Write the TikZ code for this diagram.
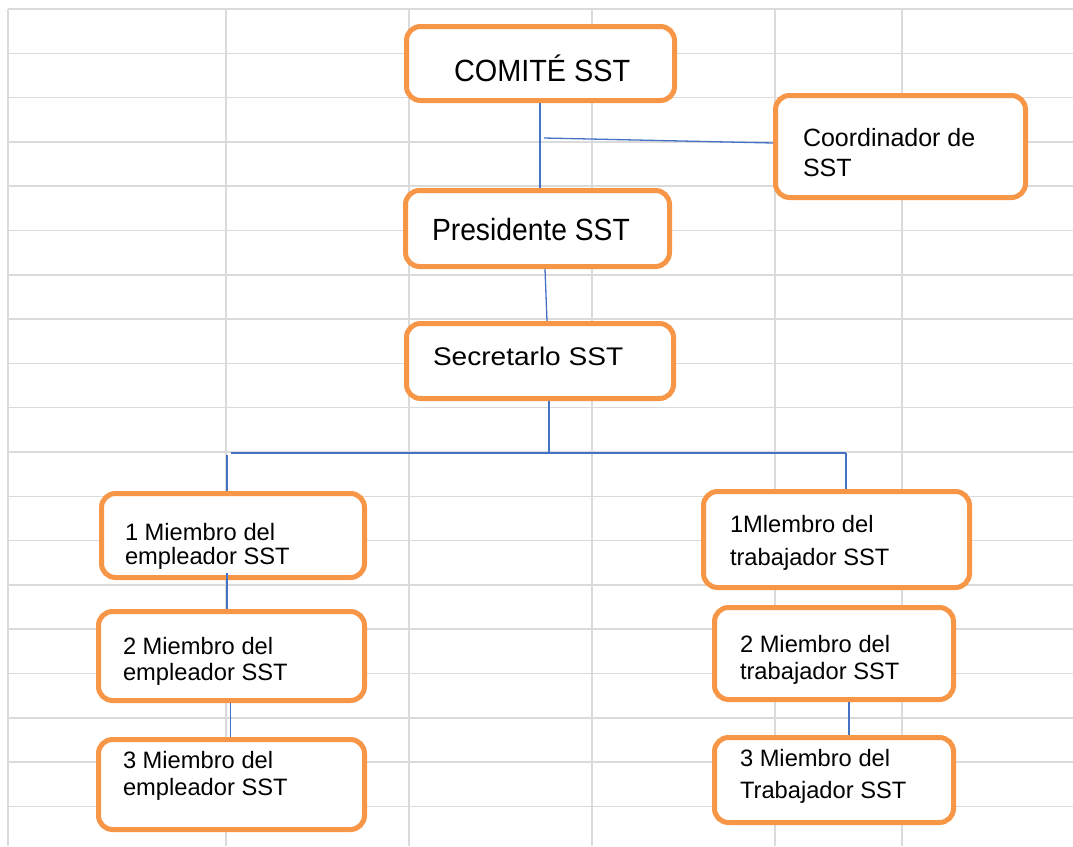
\documentclass[tikz,border=0pt]{standalone}
\usepackage{fontspec}
\setmainfont{Liberation Sans}
\definecolor{orgC}{HTML}{F79646}
\definecolor{lnkC}{HTML}{4472C4}
\definecolor{grdC}{HTML}{DADADA}
\newcommand{\twol}[3]{\vtop{\baselineskip=#3\hbox{#1}\hbox{#2}}}
\begin{document}
\begin{tikzpicture}[x=1pt,y=-1pt,
  orgbox/.style={draw=orgC, line width=5pt, fill=white, rounded corners=14pt, inner sep=0pt},
  txt/.style={anchor=base west, inner sep=0pt, outer sep=0pt, text=black},
  small/.style={font=\fontsize{23.7pt}{24pt}\selectfont},
  conn/.style={draw=lnkC, line width=1.3pt},
  grid line/.style={draw=grdC, line width=1.5pt}]
\useasboundingbox (0,0) rectangle (1073,846);
% spreadsheet grid
\foreach \k in {0,...,18} {
  \draw[grid line] (8,{9+44.3*\k}) -- (1073,{9+44.3*\k});
}
\foreach \gx in {8,226,409,592,775,902} {
  \draw[grid line] (\gx,9) -- (\gx,846);
}
% boxes
\node[orgbox, minimum width=268pt, minimum height=74pt] (com) at (540.5,63.5) {};
\node[orgbox, minimum width=250pt, minimum height=102pt] (coord) at (900.5,146.5) {};
\node[orgbox, minimum width=264pt, minimum height=76pt] (pres) at (537.5,228.5) {};
\node[orgbox, minimum width=267pt, minimum height=75pt] (sec) at (540,361) {};
\node[orgbox, minimum width=263pt, minimum height=84pt] (e1) at (233,535.5) {};
\node[orgbox, minimum width=266pt, minimum height=89pt] (e2) at (231.5,656) {};
\node[orgbox, minimum width=266pt, minimum height=90pt] (e3) at (231.5,784.5) {};
\node[orgbox, minimum width=266pt, minimum height=96pt] (t1) at (836.5,539.5) {};
\node[orgbox, minimum width=239pt, minimum height=92pt] (t2) at (834,653.5) {};
\node[orgbox, minimum width=239pt, minimum height=85pt] (t3) at (834,780) {};
% texts
\node[txt, font=\fontsize{30.7pt}{31pt}\selectfont] (comT) at (454,81) {\scalebox{0.94}[1]{COMITÉ SST}};
\node[txt, font=\fontsize{25pt}{30pt}\selectfont] (coordT) at (803,146) {\twol{Coordinador de}{SST}{30pt}};
\node[txt, font=\fontsize{30.7pt}{31pt}\selectfont] (presT) at (432,240) {\scalebox{0.92}[1]{Presidente SST}};
\node[txt, font=\fontsize{25.5pt}{26pt}\selectfont] (secT) at (433,365) {\scalebox{1.1}[1]{Secretarlo SST}};
\node[txt, small] (e1T) at (125,540) {\twol{1 Miembro del}{empleador SST}{24pt}};
\node[txt, small] (e2T) at (123,654) {\twol{2 Miembro del}{empleador SST}{26pt}};
\node[txt, small] (e3T) at (123,768) {\twol{3 Miembro del}{empleador SST}{27pt}};
\node[txt, small] (t1T) at (730,532) {\twol{1Mlembro del}{trabajador SST}{33pt}};
\node[txt, small] (t2T) at (740,652) {\twol{2 Miembro del}{trabajador SST}{27pt}};
\node[txt, small] (t3T) at (740,766) {\twol{3 Miembro del}{Trabajador SST}{32pt}};
% connectors
\coordinate (cj) at (544,138);
\coordinate (busL) at (231,453);
\coordinate (busR) at (846,453);
\coordinate (busM) at (549,453);
\draw[conn] ([xshift=-0.5pt]com.south) -- ([xshift=2.5pt]pres.north);
\draw[conn] (cj) -- ([yshift=3.5pt]coord.west);
\draw[conn] ([xshift=7.5pt]pres.south) -- ([xshift=7pt]sec.north);
\draw[conn] ([xshift=9pt]sec.south) -- (busM);
\draw[conn] (busL) -- (busR);
\draw[conn] (busR) -- ([xshift=9.5pt]t1.north);
\draw[conn] (227,455) -- ([xshift=-6pt]e1.north);
\draw[conn] ([xshift=-6pt,yshift=7pt]e1.south) -- ([xshift=-4.5pt]e2.north);
\draw[conn] ([xshift=-1pt]e2.south) -- ([xshift=-1pt]e3.north);
\draw[conn] ([xshift=15pt]t2.south) -- ([xshift=15pt]t3.north);
\end{tikzpicture}
\end{document}
